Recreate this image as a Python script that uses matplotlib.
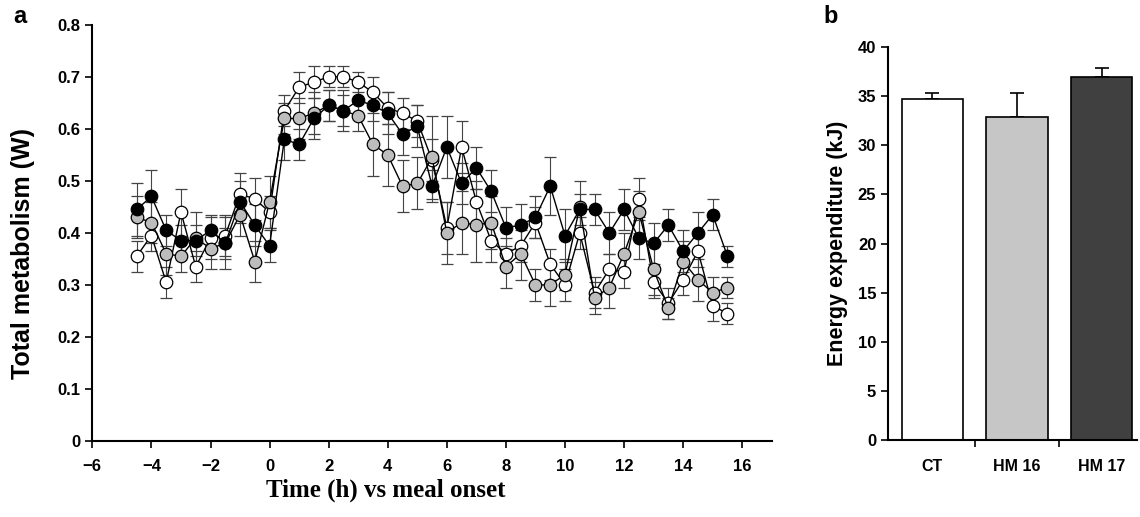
import matplotlib
matplotlib.use("Agg")
import matplotlib.pyplot as plt

plt.rcParams['font.family'] = ['Liberation Sans', 'DejaVu Sans']

# time (h) vs meal onset
time_h = [-4.5, -4, -3.5, -3, -2.5, -2, -1.5, -1, -0.5, 0, 0.5, 1, 1.5, 2, 2.5, 3, 3.5,
          4, 4.5, 5, 5.5, 6, 6.5, 7, 7.5, 8, 8.5, 9, 9.5, 10, 10.5, 11, 11.5, 12, 12.5,
          13, 13.5, 14, 14.5, 15, 15.5]

# total metabolism (W)
ct = [0.355, 0.395, 0.305, 0.44, 0.335, 0.39, 0.395, 0.475, 0.465, 0.44, 0.635, 0.68,
      0.69, 0.70, 0.70, 0.69, 0.67, 0.64, 0.63, 0.615, 0.54, 0.41, 0.565, 0.46, 0.385,
      0.36, 0.375, 0.42, 0.34, 0.30, 0.40, 0.285, 0.33, 0.325, 0.465, 0.305, 0.265,
      0.31, 0.365, 0.26, 0.245]
hm16 = [0.43, 0.42, 0.36, 0.355, 0.39, 0.37, 0.38, 0.435, 0.345, 0.46, 0.62, 0.62, 0.63,
        0.645, 0.635, 0.625, 0.57, 0.55, 0.49, 0.495, 0.545, 0.40, 0.42, 0.415, 0.42,
        0.335, 0.36, 0.30, 0.30, 0.32, 0.45, 0.275, 0.295, 0.36, 0.44, 0.33, 0.255,
        0.345, 0.31, 0.285, 0.295]
hm17 = [0.445, 0.47, 0.405, 0.385, 0.385, 0.405, 0.38, 0.46, 0.415, 0.375, 0.58, 0.57,
        0.62, 0.645, 0.635, 0.655, 0.645, 0.63, 0.59, 0.605, 0.49, 0.565, 0.495, 0.525,
        0.48, 0.41, 0.415, 0.43, 0.49, 0.395, 0.445, 0.445, 0.40, 0.445, 0.39, 0.38,
        0.415, 0.365, 0.40, 0.435, 0.355]

# standard errors
err_ct = [0.03, 0.03, 0.03, 0.045, 0.03, 0.04, 0.04, 0.04, 0.04, 0.03, 0.03, 0.03, 0.03,
          0.02, 0.02, 0.02, 0.03, 0.03, 0.03, 0.03, 0.04, 0.05, 0.05, 0.04, 0.04, 0.03,
          0.03, 0.03, 0.03, 0.03, 0.03, 0.03, 0.03, 0.03, 0.04, 0.03, 0.03, 0.03, 0.03,
          0.03, 0.02]
err_hm16 = [0.04, 0.04, 0.04, 0.03, 0.05, 0.04, 0.05, 0.04, 0.04, 0.05, 0.03, 0.04, 0.04,
            0.03, 0.03, 0.03, 0.06, 0.06, 0.05, 0.05, 0.08, 0.06, 0.06, 0.07, 0.05, 0.04,
            0.05, 0.03, 0.04, 0.03, 0.05, 0.03, 0.04, 0.04, 0.04, 0.05, 0.02, 0.04, 0.04,
            0.03, 0.02]
err_hm17 = [0.05, 0.05, 0.03, 0.03, 0.03, 0.03, 0.03, 0.04, 0.04, 0.03, 0.04, 0.03, 0.04,
            0.03, 0.04, 0.03, 0.03, 0.04, 0.04, 0.04, 0.03, 0.06, 0.04, 0.04, 0.04, 0.04,
            0.04, 0.04, 0.055, 0.05, 0.03, 0.03, 0.04, 0.04, 0.04, 0.04, 0.03, 0.04, 0.04,
            0.03, 0.02]

# energy expenditure (kJ)
groups = ['CT', 'HM 16', 'HM 17']
energy = [34.7, 32.9, 37.0]
energy_err = [0.6, 2.4, 0.9]
bar_colors = ['white', '#c6c6c6', '#404040']

fig = plt.figure(figsize=(11.4, 5.17), dpi=100)

# panel a
ax = fig.add_axes([0.081, 0.147, 0.596, 0.805])
for vals, errs, face in [(ct, err_ct, 'white'), (hm16, err_hm16, '#bdbdbd'), (hm17, err_hm17, 'black')]:
    ax.errorbar(time_h, vals, yerr=errs, fmt='-o', color='black', lw=1.0,
                markerfacecolor=face, markeredgecolor='black', markeredgewidth=0.9,
                markersize=9, ecolor='#444444', elinewidth=0.8, capsize=4, capthick=0.8)

ax.set_xlim(-6, 17)
ax.set_ylim(0, 0.8)
ax.set_xticks(range(-6, 17, 2))
ax.set_xticklabels([str(t).replace('-', '\u2212') for t in range(-6, 17, 2)])
ax.set_yticks([0, 0.1, 0.2, 0.3, 0.4, 0.5, 0.6, 0.7, 0.8])
ax.set_yticklabels(['0', '0.1', '0.2', '0.3', '0.4', '0.5', '0.6', '0.7', '0.8'])
ax.set_ylabel('Total metabolism (W)', fontsize=18, fontweight='bold')
ax.yaxis.set_label_coords(-0.084, 0.45)
fig.text(386 / 1140, 1 - 490 / 517, 'Time (h) vs meal onset', fontsize=18,
         fontweight='bold', family=['Liberation Serif', 'DejaVu Serif'],
         ha='center', va='center')

# panel b
bx = fig.add_axes([0.779, 0.149, 0.218, 0.760])
x = list(range(len(groups)))
bx.bar(x, energy, width=0.72, color=bar_colors, edgecolor='black', linewidth=1.2, zorder=2)
bx.errorbar(x, energy, yerr=[[0, 0, 0], energy_err], fmt='none', ecolor='black',
            elinewidth=1.2, capsize=5, capthick=1.2, zorder=1)
bx.set_xlim(-0.52, 2.41)
bx.set_ylim(0, 40)
bx.set_yticks(range(0, 41, 5))
bx.set_xticks([0.5, 1.5])
bx.set_xticklabels([])
bx.set_xticks(x, minor=True)
bx.set_xticklabels(groups, minor=True)
bx.set_ylabel('Energy expenditure (kJ)', fontsize=15.5, fontweight='bold', labelpad=7)

for a in (ax, bx):
    for s in ('top', 'right'):
        a.spines[s].set_visible(False)
    for s in ('left', 'bottom'):
        a.spines[s].set_linewidth(1.5)
    a.tick_params(axis='both', which='major', direction='out', length=5, width=1.2,
                  labelsize=12)
ax.tick_params(axis='x', pad=8)
bx.tick_params(axis='x', which='minor', length=0, pad=14, labelsize=11.5)
for a in (ax, bx):
    for lab in a.get_xticklabels(which='both') + a.get_yticklabels():
        lab.set_fontweight('bold')

fig.text(0.012, 0.955, 'a', fontsize=17, fontweight='bold')
fig.text(0.722, 0.955, 'b', fontsize=17, fontweight='bold')

fig.savefig('out.png', dpi=100)
